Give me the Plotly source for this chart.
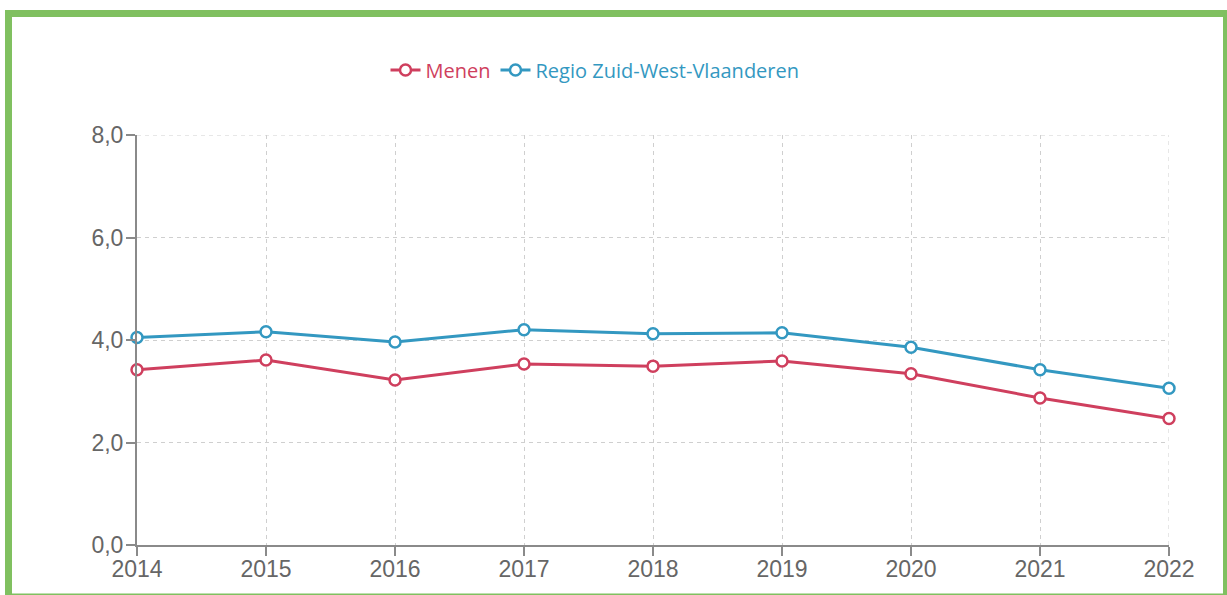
import plotly.graph_objects as go

years = [2014, 2015, 2016, 2017, 2018, 2019, 2020, 2021, 2022]
menen = [3.42, 3.61, 3.22, 3.53, 3.49, 3.59, 3.34, 2.87, 2.47]
regio = [4.05, 4.16, 3.96, 4.20, 4.12, 4.14, 3.86, 3.42, 3.06]
series_names = ["Menen", "Regio Zuid-West-Vlaanderen"]
y_ticks = [0, 2, 4, 6, 8]

RED = "#cf3f5e"
BLUE = "#3398c1"
GRID = "#cfcfcf"

W, H = 1227, 595
L, R, T, B = 137, 58, 135, 50
PW, PH = W - L - R, H - T - B

fig = go.Figure()
for name, vals, col in [(series_names[0], menen, RED), (series_names[1], regio, BLUE)]:
    fig.add_trace(go.Scatter(
        x=years, y=vals, name=f"<span style='color:{col}'>{name}</span>",
        mode="lines+markers",
        line=dict(color=col, width=3),
        marker=dict(symbol="circle", size=11, color="white", line=dict(color=col, width=2.5)),
        cliponaxis=False,
    ))

def px_x(px):
    return (px - L) / PW

def px_y(py):
    return (H - B - py) / PH

# green frame
fig.add_shape(type="rect", xref="paper", yref="paper",
              x0=px_x(8.5), x1=px_x(1226.5), y0=px_y(597), y1=px_y(13.5),
              line=dict(color="#80c060", width=7), fillcolor="rgba(0,0,0,0)", layer="above")

axis_common = dict(
    showline=True, linecolor="#8a8a8a", linewidth=2,
    ticks="outside", ticklen=9, tickcolor="#8a8a8a", tickwidth=2,
    showgrid=True, gridcolor=GRID, griddash="4px,4px", gridwidth=1,
    zeroline=False,
    tickfont=dict(family="Liberation Sans, Arial", size=23, color="#666"),
)

fig.update_layout(
    width=W, height=H,
    margin=dict(l=L, r=R, t=T, b=B),
    paper_bgcolor="white", plot_bgcolor="white",
    separators=",.",
    showlegend=True,
    legend=dict(orientation="h", xref="container", yref="container",
                x=595 / W, xanchor="center", y=1 - 70 / H, yanchor="middle",
                font=dict(family="Open Sans", size=20), itemwidth=30,
                traceorder="normal"),
    xaxis=dict(range=[2014, 2022], tickvals=years, ticktext=[str(y) for y in years],
               ticklabelstandoff=-7, **axis_common),
    yaxis=dict(range=[0, 8], tickvals=y_ticks, tickformat=".1f",
               ticklabelstandoff=-2, **axis_common),
)

# right edge gridline at 2022 and top gridline (dashed)
fig.add_shape(type="line", xref="x", yref="paper", x0=2022, x1=2022, y0=0, y1=1,
              line=dict(color=GRID, width=1, dash="4px,4px"), layer="below")
fig.add_shape(type="line", xref="paper", yref="y", x0=0, x1=1, y0=8, y1=8,
              line=dict(color=GRID, width=1, dash="4px,4px"), layer="below")

fig.write_html("out.html", config={"displayModeBar": False},
               post_script="document.body.style.margin='0px';")
